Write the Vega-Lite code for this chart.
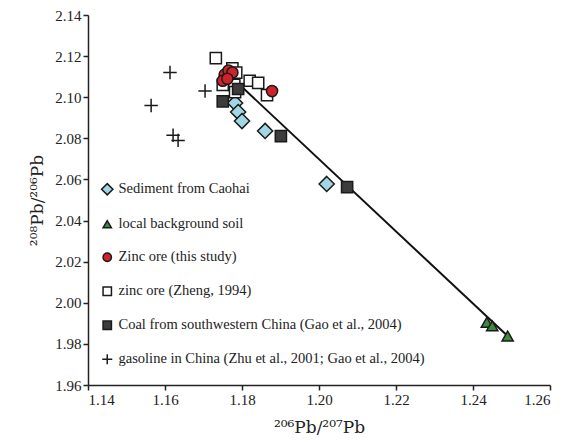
{
  "$schema": "https://vega.github.io/schema/vega-lite/v6.json",
  "width": 462,
  "height": 370,
  "autosize": "none",
  "padding": {"left": 88, "top": 15, "right": 19, "bottom": 58},
  "background": "white",
  "config": {
    "view": {"stroke": null},
    "font": "Liberation Serif",
    "axis": {
      "grid": false,
      "domainColor": "#222",
      "domainWidth": 1.5,
      "tickColor": "#222",
      "tickWidth": 1.5,
      "tickSize": 5,
      "labelFont": "Liberation Serif",
      "labelFontSize": 15,
      "labelColor": "#222",
      "titleFont": "DejaVu Serif",
      "titleFontSize": 17,
      "titleFontWeight": "normal",
      "titleColor": "#222"
    },
    "legend": {
      "labelFont": "Liberation Serif",
      "labelFontSize": 14.5,
      "labelColor": "#222",
      "symbolStrokeColor": "#222",
      "symbolStrokeWidth": 1.5
    }
  },
  "datasets": {
    "pts": [
      {"x": 1.1782, "y": 2.0972, "g": "Sediment from Caohai"},
      {"x": 1.1790, "y": 2.0928, "g": "Sediment from Caohai"},
      {"x": 1.1800, "y": 2.0884, "g": "Sediment from Caohai"},
      {"x": 1.1860, "y": 2.0836, "g": "Sediment from Caohai"},
      {"x": 1.2020, "y": 2.0578, "g": "Sediment from Caohai"},
      {"x": 1.2436, "y": 1.9905, "g": "local background soil"},
      {"x": 1.2450, "y": 1.9888, "g": "local background soil"},
      {"x": 1.2490, "y": 1.9838, "g": "local background soil"},
      {"x": 1.1732, "y": 2.1190, "g": "zinc ore (Zheng, 1994)"},
      {"x": 1.1775, "y": 2.1140, "g": "zinc ore (Zheng, 1994)"},
      {"x": 1.1785, "y": 2.1120, "g": "zinc ore (Zheng, 1994)"},
      {"x": 1.1750, "y": 2.1060, "g": "zinc ore (Zheng, 1994)"},
      {"x": 1.1780, "y": 2.1060, "g": "zinc ore (Zheng, 1994)"},
      {"x": 1.1782, "y": 2.1025, "g": "zinc ore (Zheng, 1994)"},
      {"x": 1.1820, "y": 2.1080, "g": "zinc ore (Zheng, 1994)"},
      {"x": 1.1842, "y": 2.1070, "g": "zinc ore (Zheng, 1994)"},
      {"x": 1.1865, "y": 2.1010, "g": "zinc ore (Zheng, 1994)"},
      {"x": 1.1750, "y": 2.0980, "g": "Coal from southwestern China (Gao et al., 2004)"},
      {"x": 1.1790, "y": 2.1040, "g": "Coal from southwestern China (Gao et al., 2004)"},
      {"x": 1.1901, "y": 2.0811, "g": "Coal from southwestern China (Gao et al., 2004)"},
      {"x": 1.2073, "y": 2.0563, "g": "Coal from southwestern China (Gao et al., 2004)"},
      {"x": 1.1755, "y": 2.1110, "g": "Zinc ore (this study)"},
      {"x": 1.1765, "y": 2.1130, "g": "Zinc ore (this study)"},
      {"x": 1.1775, "y": 2.1120, "g": "Zinc ore (this study)"},
      {"x": 1.1750, "y": 2.1080, "g": "Zinc ore (this study)"},
      {"x": 1.1762, "y": 2.1090, "g": "Zinc ore (this study)"},
      {"x": 1.1878, "y": 2.1030, "g": "Zinc ore (this study)"},
      {"x": 1.1613, "y": 2.1120, "g": "gasoline in China (Zhu et al., 2001; Gao et al., 2004)"},
      {"x": 1.1564, "y": 2.0960, "g": "gasoline in China (Zhu et al., 2001; Gao et al., 2004)"},
      {"x": 1.1704, "y": 2.1030, "g": "gasoline in China (Zhu et al., 2001; Gao et al., 2004)"},
      {"x": 1.1621, "y": 2.0815, "g": "gasoline in China (Zhu et al., 2001; Gao et al., 2004)"},
      {"x": 1.1634, "y": 2.0790, "g": "gasoline in China (Zhu et al., 2001; Gao et al., 2004)"}
    ],
    "trend": [
      {"x": 1.1760, "y": 2.1120},
      {"x": 1.2490, "y": 1.9838}
    ]
  },
  "layer": [
    {
      "data": {"name": "trend"},
      "mark": {"type": "line", "color": "#111", "strokeWidth": 2},
      "encoding": {
        "x": {"field": "x", "type": "quantitative"},
        "y": {"field": "y", "type": "quantitative"}
      }
    },
    {
      "data": {"name": "pts"},
      "mark": {"type": "point", "filled": true, "strokeWidth": 1.5, "opacity": 1, "size": 125},
      "encoding": {
        "x": {
          "field": "x", "type": "quantitative",
          "scale": {"domain": [1.14, 1.26], "nice": false, "zero": false},
          "axis": {"values": [1.14, 1.16, 1.18, 1.2, 1.22, 1.24, 1.26], "format": ".2f", "title": "²⁰⁶Pb/²⁰⁷Pb", "titlePadding": 12}
        },
        "y": {
          "field": "y", "type": "quantitative",
          "scale": {"domain": [1.96, 2.14], "nice": false, "zero": false},
          "axis": {"values": [1.96, 1.98, 2.0, 2.02, 2.04, 2.06, 2.08, 2.1, 2.12, 2.14], "format": ".2f", "title": "²⁰⁸Pb/²⁰⁶Pb", "titlePadding": 8}
        },
        "shape": {
          "field": "g", "type": "nominal",
          "scale": {
            "domain": ["Sediment from Caohai", "local background soil", "Zinc ore (this study)", "zinc ore (Zheng, 1994)", "Coal from southwestern China (Gao et al., 2004)", "gasoline in China (Zhu et al., 2001; Gao et al., 2004)"],
            "range": ["M0,-1.35L1.35,0L0,1.35L-1.35,0Z", "triangle-up", "circle", "square", "square", "M-1.2,0L1.2,0M0,-1.2L0,1.2"]
          },
          "legend": {"title": null, "orient": "none", "legendX": 12, "legendY": 167, "rowPadding": 18, "symbolSize": 70, "labelOffset": 4, "labelLimit": 500}
        },
        "fill": {
          "field": "g", "type": "nominal",
          "scale": {
            "domain": ["Sediment from Caohai", "local background soil", "Zinc ore (this study)", "zinc ore (Zheng, 1994)", "Coal from southwestern China (Gao et al., 2004)", "gasoline in China (Zhu et al., 2001; Gao et al., 2004)"],
            "range": ["#a3d6e4", "#3f8a3d", "#d0222b", "#ffffff", "#3c3c3c", "transparent"]
          },
          "legend": {"title": null, "orient": "none", "legendX": 12, "legendY": 167, "rowPadding": 18, "symbolSize": 70, "labelOffset": 4, "labelLimit": 500}
        },
        "stroke": {
          "field": "g", "type": "nominal",
          "scale": {
            "domain": ["Sediment from Caohai", "local background soil", "Zinc ore (this study)", "zinc ore (Zheng, 1994)", "Coal from southwestern China (Gao et al., 2004)", "gasoline in China (Zhu et al., 2001; Gao et al., 2004)"],
            "range": ["#1a1a1a", "#1a1a1a", "#1a1a1a", "#1a1a1a", "#1a1a1a", "#1a1a1a"]
          },
          "legend": {"title": null, "orient": "none", "legendX": 12, "legendY": 167, "rowPadding": 18, "symbolSize": 70, "labelOffset": 4, "labelLimit": 500}
        }
      }
    }
  ]
}
